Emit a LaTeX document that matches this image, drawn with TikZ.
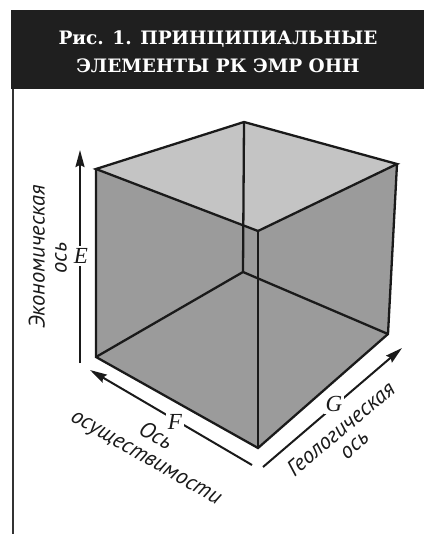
\documentclass[tikz,border=0pt]{standalone}
\usepackage{fontspec}
\setmainfont{DejaVu Serif}
\newfontfamily\headfont{DejaVu Serif}
\newfontfamily\labfont{PT Sans}
\newfontfamily\letfont{Liberation Serif}
\usetikzlibrary{arrows.meta}
\definecolor{topgray}{HTML}{C4C4C4}
\definecolor{sidegray}{HTML}{9B9B9B}
\definecolor{edgeblack}{HTML}{1A1A1A}
\tikzset{
  edge/.style={draw=edgeblack, line width=2.3pt, line join=miter},
  axisarrow/.style={draw=edgeblack, line width=2pt, -{Stealth[length=17pt,width=9pt,inset=2pt]}},
  axisletter/.style={fill=white, inner sep=2pt, font=\letfont\itshape\fontsize{23}{23}\selectfont, text=edgeblack},
  axislabel/.style={font=\labfont\itshape\fontsize{22.5}{23}\selectfont, text=edgeblack, inner sep=0pt, text height=11pt, text depth=0pt},
  headtext/.style={align=center, text=white, font=\headfont\bfseries\fontsize{18.5}{28}\selectfont}
}
\begin{document}
\begin{tikzpicture}[x=1pt,y=-1pt]
\useasboundingbox (0,0) rectangle (424,534);
% header
\fill[black!88] (11,10) rectangle (424,89);
\node[headtext] (title) at (218,52) {Рис. 1. ПРИНЦИПИАЛЬНЫЕ\\ЭЛЕМЕНТЫ РК ЭМР ОНН};
\draw[draw=black!80, line width=2pt] (13,89) -- (13,534);
% cube vertices
\coordinate (A) at (96,169);
\coordinate (B) at (244,122);
\coordinate (C) at (397,164);
\coordinate (D) at (258,231);
\coordinate (A2) at (96,357);
\coordinate (B2) at (243,272);
\coordinate (C2) at (388,334);
\coordinate (D2) at (258,448);
\fill[sidegray] (A) -- (B) -- (C) -- (C2) -- (D2) -- (A2) -- cycle;
\fill[topgray] (A) -- (B) -- (C) -- (D) -- cycle;
\draw[edge] (B) -- (B2);
\draw[edge] (A2) -- (B2) -- (C2);
\draw[edge] (A) -- (B) -- (C) -- (D) -- cycle;
\draw[edge] (A) -- (A2) -- (D2) -- (C2) -- (C);
\draw[edge] (D) -- (D2);
% axes
\coordinate (e0) at (80,363);
\coordinate (e1) at (80,150);
\draw[axisarrow] (e0) -- (e1);
\node[axisletter] (E) at (81,256) {E};
\coordinate (f0) at (252,465);
\coordinate (f1) at (90,370);
\draw[axisarrow] (f0) -- (f1);
\node[axisletter] (F) at (175,422) {F};
\coordinate (g0) at (263,467);
\coordinate (g1) at (402,348);
\draw[axisarrow] (g0) -- (g1);
\node[axisletter] (G) at (334,404) {G};
% labels
\node[axislabel, rotate=90] (econ1) at (39,257) {Экономическая};
\node[axislabel, rotate=90] (econ2) at (61,258) {ось};
\node[axislabel, rotate=-30] (feas1) at (155,437) {Ось};
\node[axislabel, rotate=-30] (feas2) at (146,458) {осуществимости};
\node[axislabel, rotate=40] (geol1) at (342,430) {Геологическая};
\node[axislabel, rotate=40] (geol2) at (355,446) {ось};
\end{tikzpicture}
\end{document}
